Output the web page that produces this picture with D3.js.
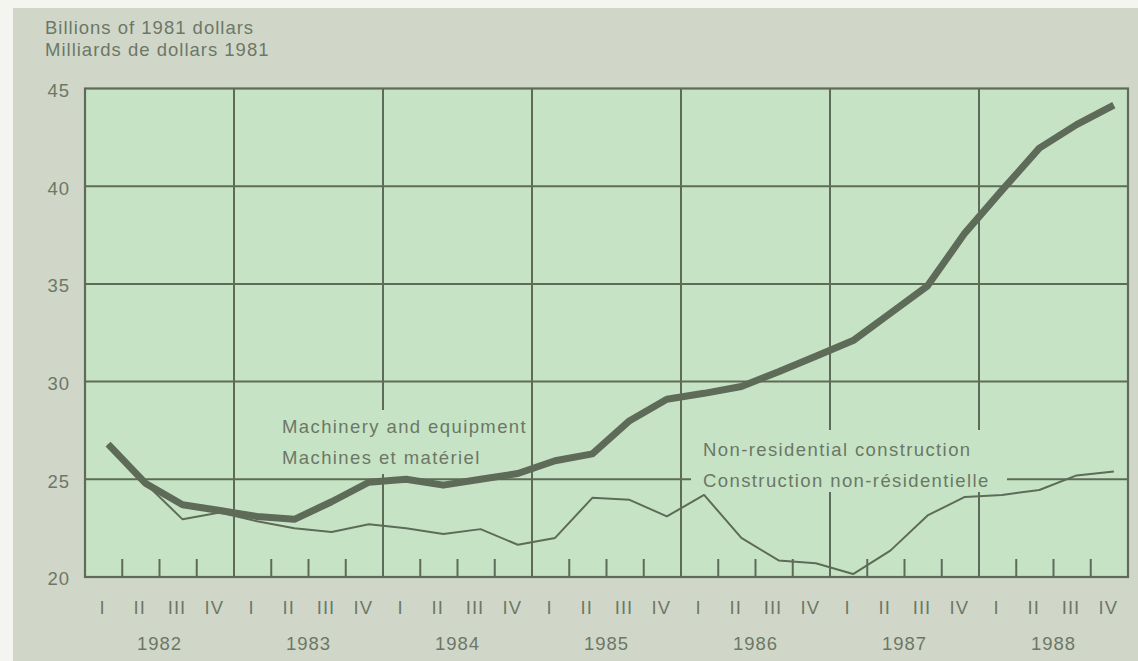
<!DOCTYPE html>
<html><head><meta charset="utf-8">
<script src="https://cdn.jsdelivr.net/npm/d3@7"></script>
<style>
html,body{margin:0;padding:0;background:#f4f5f0;}
svg{display:block;}
text{font-family:"Liberation Sans",Arial,Helvetica,sans-serif;fill:#6c7767;}
</style></head>
<body><svg id="c" width="1138" height="661"></svg>
<script>
// ---- data ----
const years = [1982, 1983, 1984, 1985, 1986, 1987, 1988];
const quarterLabels = ["I", "II", "III", "IV"];
const yTicks = [20, 25, 30, 35, 40, 45];
const titleLines = ["Billions of 1981 dollars", "Milliards de dollars 1981"];
const machinery = [26.8, 24.8, 23.7, 23.4, 23.1, 22.95, 23.85, 24.85,
  25.0, 24.7, 25.0, 25.3, 25.95, 26.3, 28.0, 29.1,
  29.4, 29.75, 30.5, 31.3, 32.1, 33.5, 34.9, 37.6,
  39.8, 41.95, 43.15, 44.15];
const nonResidential = [26.8, 24.8, 22.95, 23.3, 22.85, 22.5, 22.3, 22.7,
  22.5, 22.2, 22.45, 21.65, 22.0, 24.05, 23.95, 23.1,
  24.2, 22.0, 20.85, 20.7, 20.15, 21.35, 23.15, 24.1,
  24.2, 24.45, 25.2, 25.4];
const machineryLabel = ["Machinery and equipment", "Machines et matériel"];
const nonResLabel = ["Non-residential construction", "Construction non-résidentielle"];

// ---- layout ----
const W = 1138, H = 661;
const L = 85, R = 1128, T = 88.5, B = 577;
const ink = "#5e6b59";
const fs = "18.5px";
const svg = d3.select("#c");

svg.append("rect").attr("x", 13).attr("y", 8).attr("width", W - 13).attr("height", H - 8).attr("fill", "#d1d7c8");
svg.append("rect").attr("x", L).attr("y", T).attr("width", R - L).attr("height", B - T).attr("fill", "#c6e4c5");

const nQ = years.length * 4;
const x = d3.scaleLinear().domain([0, nQ]).range([L, R]);
const y = d3.scaleLinear().domain([20, 45]).range([B, T]);

const g = svg.append("g");
// horizontal grid
g.selectAll("line.h").data(yTicks.slice(1, -1)).join("line")
  .attr("x1", L).attr("x2", R).attr("y1", d => y(d)).attr("y2", d => y(d))
  .attr("stroke", ink).attr("stroke-width", 2);
// vertical year grid
g.selectAll("line.v").data(d3.range(1, years.length)).join("line")
  .attr("x1", d => x(d * 4)).attr("x2", d => x(d * 4)).attr("y1", T).attr("y2", B)
  .attr("stroke", ink).attr("stroke-width", 2);
// quarter ticks
g.selectAll("line.t").data(d3.range(1, nQ).filter(i => i % 4 !== 0)).join("line")
  .attr("x1", d => x(d)).attr("x2", d => x(d)).attr("y1", B).attr("y2", B - 18)
  .attr("stroke", ink).attr("stroke-width", 2);

// label backgrounds (break gridlines)
svg.append("rect").attr("x", 276).attr("y", 410).attr("width", 252).attr("height", 64).attr("fill", "#c6e4c5");
svg.append("rect").attr("x", 691).attr("y", 430).attr("width", 316).attr("height", 62).attr("fill", "#c6e4c5");

// border
svg.append("rect").attr("x", L).attr("y", T).attr("width", R - L).attr("height", B - T)
  .attr("fill", "none").attr("stroke", ink).attr("stroke-width", 2.2);

// lines
const line = d3.line().x((d, i) => x(i + 0.62)).y(d => y(d));
svg.append("path").datum(nonResidential).attr("d", line).attr("fill", "none")
  .attr("stroke", ink).attr("stroke-width", 2).attr("stroke-linejoin", "round");
svg.append("path").datum(machinery).attr("d", line).attr("fill", "none")
  .attr("stroke", ink).attr("stroke-width", 7).attr("stroke-linejoin", "round");

// y axis labels
svg.selectAll("text.y").data(yTicks).join("text")
  .attr("x", 70).attr("y", d => y(d) + 2).attr("dy", "0.35em").attr("text-anchor", "end")
  .style("font-size", fs).style("letter-spacing", "1px").text(d => d);

// quarter labels
const qData = d3.range(nQ);
svg.selectAll("text.q").data(qData).join("text")
  .attr("x", d => x(d + 0.47)).attr("y", 614).attr("text-anchor", "middle")
  .style("font-size", fs).style("letter-spacing", "1px").text(d => quarterLabels[d % 4]);
// year labels
svg.selectAll("text.yr").data(years).join("text")
  .attr("x", (d, i) => x(i * 4 + 2)).attr("y", 650).attr("text-anchor", "middle")
  .style("font-size", fs).style("letter-spacing", "1px").text(d => d);

// title
svg.selectAll("text.t").data(titleLines).join("text")
  .attr("x", 45).attr("y", (d, i) => 34 + i * 22)
  .style("font-size", fs).style("letter-spacing", "1px").text(d => d);

// series labels
svg.selectAll("text.m").data(machineryLabel).join("text")
  .attr("x", 282).attr("y", (d, i) => 433 + i * 31)
  .style("font-size", fs).style("letter-spacing", "1.4px").text(d => d);
svg.selectAll("text.n").data(nonResLabel).join("text")
  .attr("x", 703).attr("y", (d, i) => 456 + i * 31)
  .style("font-size", fs).style("letter-spacing", "1.4px").text(d => d);
</script></body></html>
